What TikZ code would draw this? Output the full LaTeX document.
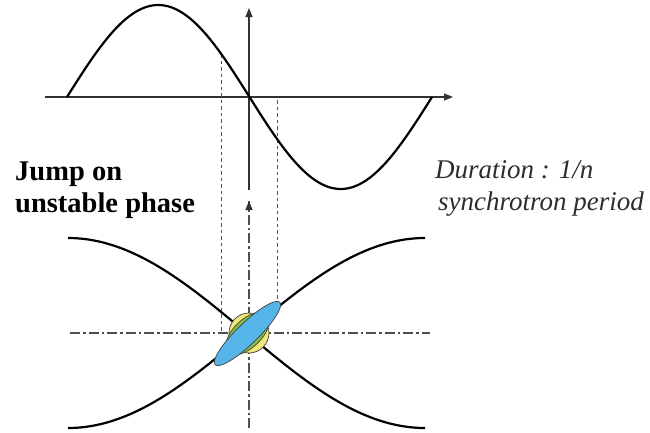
\documentclass[tikz,border=0pt]{standalone}
\usepackage{fontspec}
\setmainfont{Liberation Serif}
\usetikzlibrary{arrows.meta}
\definecolor{axisgray}{RGB}{50,50,50}
\definecolor{guidegray}{RGB}{80,80,80}
\definecolor{bluefill}{RGB}{85,180,232}
\definecolor{greenfill}{RGB}{140,190,70}
\definecolor{yellowfill}{RGB}{240,232,120}
\definecolor{textgray}{RGB}{45,45,45}
\begin{document}
\begin{tikzpicture}[x=1pt,y=-1pt,
  axisline/.style={axisgray, line width=1.1pt},
  tipped/.style={-{Triangle[length=9pt,width=7pt]}},
  curveline/.style={black, line width=2.2pt},
  guideline/.style={guidegray, line width=1pt, dash pattern=on 3.5pt off 3pt},
  dashdotline/.style={guidegray, line width=1.1pt, dash pattern=on 10pt off 3pt on 2.5pt off 3pt},
  boldlabel/.style={anchor=base west, inner sep=0pt, font=\fontsize{28.5}{32}\selectfont\bfseries},
  italiclabel/.style={anchor=base west, inner sep=0pt, text=textgray, font=\fontsize{27}{32}\selectfont\itshape},
  spot/.style={draw=black!75, line width=0.7pt},
]
\useasboundingbox (0,0) rectangle (650,432);

% named coordinates
\coordinate (hL) at (45,97);
\coordinate (hR) at (453,97);
\coordinate (vB) at (249,190);
\coordinate (vT) at (249,8);
\coordinate (gLt) at (221,54);
\coordinate (gLb) at (221,333);
\coordinate (gRt) at (277,100);
\coordinate (gRb) at (277,300);
\coordinate (lhL) at (70,333);
\coordinate (lhR) at (430,333);
\coordinate (lvB) at (249,428);
\coordinate (lvT) at (249,201);
\coordinate (ctr) at (247.5,333.5);

% top plot axes
\draw[axisline, tipped] (hL) -- (hR);
\draw[axisline, tipped] (vB) -- (vT);

% guide lines
\draw[guideline] (gLt) -- (gLb);
\draw[guideline] (gRt) -- (gRb);

% lower axes
\draw[dashdotline] (lhL) -- (lhR);
\draw[dashdotline] (lvB) -- (lvT);
\draw[axisgray, line width=1.1pt, -{Triangle[length=9pt,width=7pt]}] (249,206) -- (lvT);

% sine wave
\draw[curveline] plot[domain=67:432, samples=150, smooth] (\x, {97-92*sin(0.986301*(\x-67))});

% separatrices
\draw[curveline] plot[domain=68:425, samples=120, smooth] (\x, {333-95*cos(0.504202*(\x-68))});
\draw[curveline] plot[domain=68:425, samples=120, smooth] (\x, {333+95*cos(0.504202*(\x-68))});

% beam spots
\draw[spot, fill=yellowfill] (249,333) circle[radius=20];
\draw[spot, fill=greenfill, rotate around={44:(ctr)}] (ctr) ellipse[x radius=27pt, y radius=14pt];
\draw[spot, fill=bluefill, rotate around={44:(ctr)}] (ctr) ellipse[x radius=45pt, y radius=10.5pt];

% labels
\node[boldlabel] (jump) at (15,180) {Jump on};
\node[boldlabel] (unstable) at (15,212) {unstable phase};
\node[italiclabel] (duration) at (435,178) {Duration : 1/n};
\node[italiclabel] (period) at (438,210) {synchrotron period};
\end{tikzpicture}
\end{document}
